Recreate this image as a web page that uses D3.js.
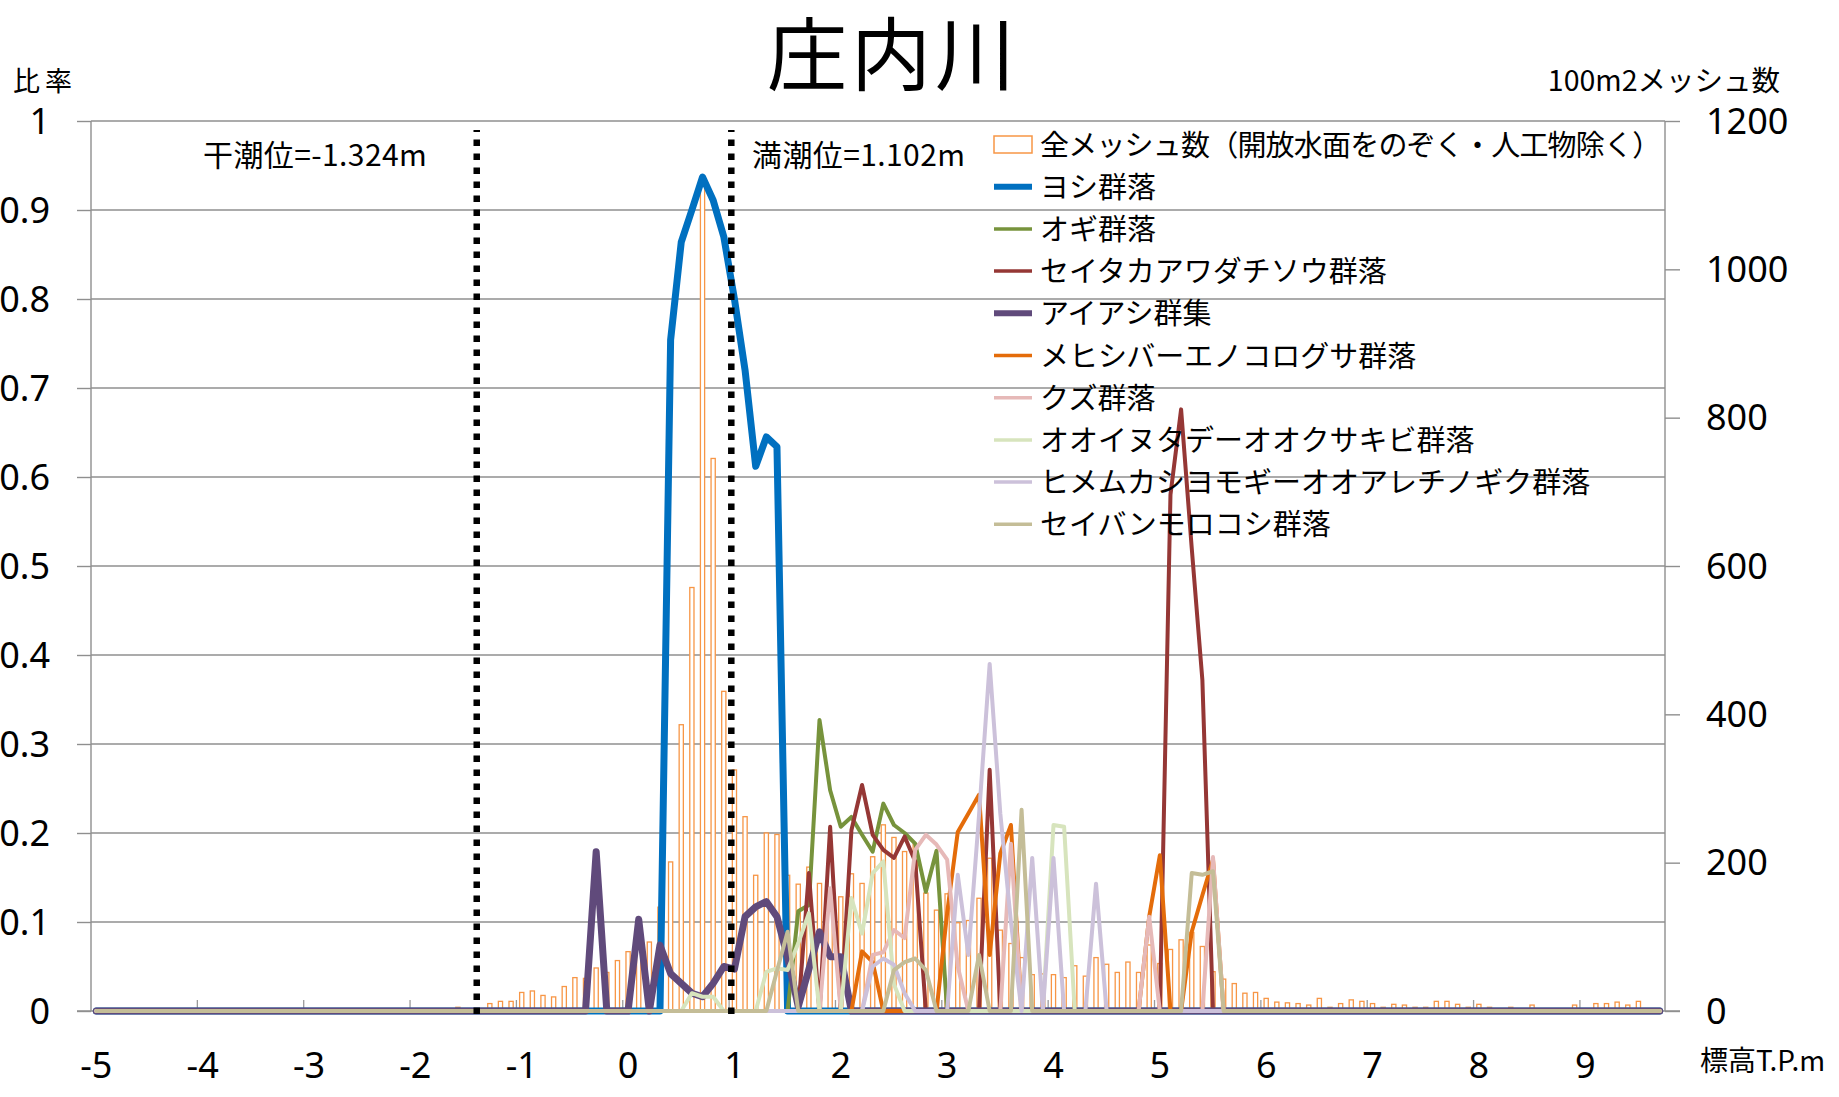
<!DOCTYPE html>
<html lang="ja">
<head>
<meta charset="utf-8">
<title>庄内川</title>
<script src="https://cdn.jsdelivr.net/npm/d3@7"></script>
<style>
  html, body { margin: 0; padding: 0; background: #fff; overflow: hidden; }
  svg { display: block; }
  .jp { font-family: "Noto Sans CJK JP", "Noto Sans", sans-serif; fill: #000; }
  .num { font-family: "Noto Sans", "DejaVu Sans", sans-serif; font-size: 36px; fill: #000; }
</style>
</head>
<body>
<svg id="chart" width="1839" height="1097"></svg>
<script>
// Elevation bins (T.P. m), 0.1 m wide, from -5.0 to 9.7
const elevations = d3.range(-50, 98).map(i => (i / 10).toFixed(1));

// Labelled bins on the elevation axis
const xTickLabels = ["-5", "-4", "-3", "-2", "-1", "0", "1", "2", "3", "4", "5", "6", "7", "8", "9"];
const leftTickLabels = ["0", "0.1", "0.2", "0.3", "0.4", "0.5", "0.6", "0.7", "0.8", "0.9", "1"];
const rightTickValues = [0, 200, 400, 600, 800, 1000, 1200];

// Tide levels (m)
const tideLevels = [-1.324, 1.102];
const tideLabels = ["干潮位=-1.324m", "満潮位=1.102m"];

// Number of 100 m2 meshes per bin (open water and artificial surfaces excluded)
const meshCount = [
  0,0,0,0,0,0,0,0,0,0,
  0,0,0,0,0,0,0,0,0,0,
  0,0,0,0,0,0,0,0,0,0,
  0,2,0,2,5,0,3,10,13,13,
  25,27,21,19,33,45,44,58,52,68,
  80,85,93,140,201,386,571,1112,745,431,
  325,262,183,240,238,183,171,194,172,136,
  154,185,172,208,251,234,215,225,159,136,
  158,119,122,152,206,109,91,72,49,50,
  49,45,61,47,72,63,52,66,52,89,
  64,83,96,106,87,53,43,37,24,25,
  17,12,11,10,8,17,5,10,15,13,
  10,5,9,8,5,5,13,13,9,5,
  9,5,0,5,3,8,0,3,0,8,
  3,10,10,12,8,13,0,0
];

// Share of each community per bin
const yoshi = [
  0,0,0,0,0,0,0,0,0,0,
  0,0,0,0,0,0,0,0,0,0,
  0,0,0,0,0,0,0,0,0,0,
  0,0,0,0,0,0,0,0,0,0,
  0,0,0,0,0,0,0,0,0,0,
  0,0,0,0,0.754,0.864,0.900,0.937,0.911,0.870,
  0.800,0.720,0.612,0.645,0.634,0,0,0,0,0,
  0,0,0,0,0,0,0,0,0,0,
  0,0,0,0,0,0,0,0,0,0,
  0,0,0,0,0,0,0,0,0,0,
  0,0,0,0,0,0,0,0,0,0,
  0,0,0,0,0,0,0,0,0,0,
  0,0,0,0,0,0,0,0,0,0,
  0,0,0,0,0,0,0,0,0,0,
  0,0,0,0,0,0,0,0
];

const ogi = [
  0,0,0,0,0,0,0,0,0,0,
  0,0,0,0,0,0,0,0,0,0,
  0,0,0,0,0,0,0,0,0,0,
  0,0,0,0,0,0,0,0,0,0,
  0,0,0,0,0,0,0,0,0,0,
  0,0,0,0,0,0,0,0,0,0,
  0,0,0,0,0,0,0.112,0.119,0.327,0.248,
  0.207,0.218,0.198,0.179,0.233,0.209,0.200,0.188,0.134,0.180,
  0,0,0,0,0,0,0,0,0,0,
  0,0,0,0,0,0,0,0,0,0,
  0,0,0,0,0,0,0,0,0,0,
  0,0,0,0,0,0,0,0,0,0,
  0,0,0,0,0,0,0,0,0,0,
  0,0,0,0,0,0,0,0,0,0,
  0,0,0,0,0,0,0,0
];

const seitaka = [
  0,0,0,0,0,0,0,0,0,0,
  0,0,0,0,0,0,0,0,0,0,
  0,0,0,0,0,0,0,0,0,0,
  0,0,0,0,0,0,0,0,0,0,
  0,0,0,0,0,0,0,0,0,0,
  0,0,0,0,0,0,0,0,0,0,
  0,0,0,0,0,0,0,0.155,0,0.207,
  0,0.203,0.254,0.198,0.181,0.172,0.196,0.168,0,0,
  0,0,0,0,0.271,0,0,0,0,0,
  0,0,0,0,0,0,0,0,0,0,
  0,0.580,0.676,0.520,0.372,0,0,0,0,0,
  0,0,0,0,0,0,0,0,0,0,
  0,0,0,0,0,0,0,0,0,0,
  0,0,0,0,0,0,0,0,0,0,
  0,0,0,0,0,0,0,0
];

const aiashi = [
  0,0,0,0,0,0,0,0,0,0,
  0,0,0,0,0,0,0,0,0,0,
  0,0,0,0,0,0,0,0,0,0,
  0,0,0,0,0,0,0,0,0,0,
  0,0,0,0,0,0,0,0.179,0,0,
  0,0.103,0,0.074,0.042,0.031,0.020,0.016,0.031,0.050,
  0.047,0.106,0.117,0.123,0.106,0.060,0.005,0.047,0.089,0.061,
  0.061,0,0,0,0,0,0,0,0,0,
  0,0,0,0,0,0,0,0,0,0,
  0,0,0,0,0,0,0,0,0,0,
  0,0,0,0,0,0,0,0,0,0,
  0,0,0,0,0,0,0,0,0,0,
  0,0,0,0,0,0,0,0,0,0,
  0,0,0,0,0,0,0,0,0,0,
  0,0,0,0,0,0,0,0
];

const mehishiba = [
  0,0,0,0,0,0,0,0,0,0,
  0,0,0,0,0,0,0,0,0,0,
  0,0,0,0,0,0,0,0,0,0,
  0,0,0,0,0,0,0,0,0,0,
  0,0,0,0,0,0,0,0,0,0,
  0,0,0,0,0,0,0,0,0,0,
  0,0,0,0,0,0,0,0,0,0,
  0,0,0.067,0.055,0,0,0,0,0,0,
  0.110,0.201,0.222,0.243,0.063,0.177,0.209,0,0,0,
  0,0,0,0,0,0,0,0,0,0.106,
  0.175,0,0,0.089,0.130,0.170,0,0,0,0,
  0,0,0,0,0,0,0,0,0,0,
  0,0,0,0,0,0,0,0,0,0,
  0,0,0,0,0,0,0,0,0,0,
  0,0,0,0,0,0,0,0
];

const kuzu = [
  0,0,0,0,0,0,0,0,0,0,
  0,0,0,0,0,0,0,0,0,0,
  0,0,0,0,0,0,0,0,0,0,
  0,0,0,0,0,0,0,0,0,0,
  0,0,0,0,0,0,0,0,0,0,
  0,0,0,0,0,0,0,0,0,0,
  0,0,0,0,0,0,0,0,0,0.138,
  0,0,0,0.063,0.066,0.091,0.082,0.181,0.198,0.187,
  0.170,0.050,0,0,0,0,0.188,0,0,0,
  0,0,0,0,0,0,0,0,0,0.106,
  0,0,0,0,0,0.173,0,0,0,0,
  0,0,0,0,0,0,0,0,0,0,
  0,0,0,0,0,0,0,0,0,0,
  0,0,0,0,0,0,0,0,0,0,
  0,0,0,0,0,0,0,0
];

const ooinutade = [
  0,0,0,0,0,0,0,0,0,0,
  0,0,0,0,0,0,0,0,0,0,
  0,0,0,0,0,0,0,0,0,0,
  0,0,0,0,0,0,0,0,0,0,
  0,0,0,0,0,0,0,0,0,0,
  0,0,0,0,0,0,0.020,0.016,0.016,0,
  0,0,0,0.044,0.048,0.046,0.076,0.110,0,0,
  0,0.127,0.087,0.155,0.168,0.030,0,0,0,0,
  0,0,0,0,0,0,0,0,0,0,
  0.209,0.207,0,0,0,0,0,0,0,0,
  0,0,0,0,0,0,0,0,0,0,
  0,0,0,0,0,0,0,0,0,0,
  0,0,0,0,0,0,0,0,0,0,
  0,0,0,0,0,0,0,0,0,0,
  0,0,0,0,0,0,0,0
];

const himemukashi = [
  0,0,0,0,0,0,0,0,0,0,
  0,0,0,0,0,0,0,0,0,0,
  0,0,0,0,0,0,0,0,0,0,
  0,0,0,0,0,0,0,0,0,0,
  0,0,0,0,0,0,0,0,0,0,
  0,0,0,0,0,0,0,0,0,0,
  0,0,0,0,0,0,0,0,0,0,
  0,0,0,0.050,0.059,0.052,0.020,0,0,0,
  0,0.153,0.063,0.220,0.390,0.222,0.100,0,0.172,0,
  0.172,0,0,0,0.143,0,0,0,0,0,
  0,0,0,0,0,0,0,0,0,0,
  0,0,0,0,0,0,0,0,0,0,
  0,0,0,0,0,0,0,0,0,0,
  0,0,0,0,0,0,0,0,0,0,
  0,0,0,0,0,0,0,0
];

const seibanmorokoshi = [
  0,0,0,0,0,0,0,0,0,0,
  0,0,0,0,0,0,0,0,0,0,
  0,0,0,0,0,0,0,0,0,0,
  0,0,0,0,0,0,0,0,0,0,
  0,0,0,0,0,0,0,0,0,0,
  0,0,0,0,0,0,0,0,0,0,
  0,0,0,0,0.045,0.089,0,0,0,0,
  0,0,0,0,0,0.046,0.055,0.059,0.046,0,
  0,0,0,0.063,0,0,0,0.226,0,0,
  0,0,0,0,0,0,0,0,0,0,
  0,0,0,0.155,0.153,0.157,0,0,0,0,
  0,0,0,0,0,0,0,0,0,0,
  0,0,0,0,0,0,0,0,0,0,
  0,0,0,0,0,0,0,0,0,0,
  0,0,0,0,0,0,0,0
];

const barSeriesName = "全メッシュ数（開放水面をのぞく・人工物除く）";
const lineSeries = [
  { name: "ヨシ群落", values: yoshi },
  { name: "オギ群落", values: ogi },
  { name: "セイタカアワダチソウ群落", values: seitaka },
  { name: "アイアシ群集", values: aiashi },
  { name: "メヒシバーエノコログサ群落", values: mehishiba },
  { name: "クズ群落", values: kuzu },
  { name: "オオイヌタデーオオクサキビ群落", values: ooinutade },
  { name: "ヒメムカシヨモギーオオアレチノギク群落", values: himemukashi },
  { name: "セイバンモロコシ群落", values: seibanmorokoshi }
];

// ---- styling ----
const lineStyle = {
  "ヨシ群落": { color: "#0070C0", width: 7, legendWidth: 6 },
  "オギ群落": { color: "#77933C", width: 4, legendWidth: 3.5 },
  "セイタカアワダチソウ群落": { color: "#953735", width: 4, legendWidth: 3.5 },
  "アイアシ群集": { color: "#604A7B", width: 7, legendWidth: 6 },
  "メヒシバーエノコログサ群落": { color: "#E46C0A", width: 4, legendWidth: 3.5 },
  "クズ群落": { color: "#E6B9B8", width: 4, legendWidth: 3.5 },
  "オオイヌタデーオオクサキビ群落": { color: "#D7E4BD", width: 4, legendWidth: 3.5 },
  "ヒメムカシヨモギーオオアレチノギク群落": { color: "#CCC1DA", width: 4, legendWidth: 3.5 },
  "セイバンモロコシ群落": { color: "#C4BD97", width: 4, legendWidth: 3.5 }
};
const barStroke = "#F79646";
const gridColor = "#8f8f8f";

const svg = d3.select("#chart");
const plot = { left: 91, right: 1665, top: 121, bottom: 1011 };

// category axis for the bins, value axis for the tide marks
const x = d3.scaleBand().domain(elevations).range([plot.left, plot.right]).padding(0);
const xc = d => x(d) + x.bandwidth() / 2;
const xTide = d3.scaleLinear().domain([-5, 10]).range([plot.left, plot.right]);
const yL = d3.scaleLinear().domain([0, 1]).range([plot.bottom, plot.top]);
const yR = d3.scaleLinear().domain([0, 1200]).range([plot.bottom, plot.top]);

// ---- gridlines ----
const leftTickValues = leftTickLabels.map(Number);
svg.append("g").selectAll("line")
  .data(leftTickValues.filter(v => v > 0))
  .join("line")
  .attr("x1", plot.left).attr("x2", plot.right)
  .attr("y1", d => yL(d)).attr("y2", d => yL(d))
  .attr("stroke", gridColor).attr("stroke-width", 1.4);

// ---- axes ----
const leftAxis = svg.append("g")
  .attr("transform", `translate(${plot.left},0)`)
  .call(d3.axisLeft(yL).tickValues(leftTickValues).tickSize(14).tickPadding(27)
    .tickFormat((d, i) => leftTickLabels[i]));
const rightAxis = svg.append("g")
  .attr("transform", `translate(${plot.right},0)`)
  .call(d3.axisRight(yR).tickValues(rightTickValues).tickSize(15).tickPadding(26)
    .tickFormat(d3.format("d")));
const bottomAxis = svg.append("g")
  .attr("transform", `translate(0,${plot.bottom})`)
  .call(d3.axisBottom(x)
    .tickValues(xTickLabels.map(t => (+t).toFixed(1)))
    .tickSize(0).tickPadding(41)
    .tickFormat((d, i) => xTickLabels[i]));

[leftAxis, rightAxis, bottomAxis].forEach(g => {
  g.select(".domain").remove();
  g.selectAll(".tick line").attr("stroke", gridColor).attr("stroke-width", 1.4);
  g.selectAll(".tick text").attr("class", "num").attr("font-size", null).attr("font-family", null);
});
leftAxis.selectAll(".tick text").attr("dy", "0.34em");
rightAxis.selectAll(".tick text").attr("dy", "0.34em");

// axis frame lines
svg.append("line").attr("x1", plot.left).attr("x2", plot.left)
  .attr("y1", plot.top).attr("y2", plot.bottom).attr("stroke", gridColor).attr("stroke-width", 1.4);
svg.append("line").attr("x1", plot.right).attr("x2", plot.right)
  .attr("y1", plot.top).attr("y2", plot.bottom).attr("stroke", gridColor).attr("stroke-width", 1.4);
svg.append("line").attr("x1", plot.left - 14).attr("x2", plot.right + 15)
  .attr("y1", plot.bottom).attr("y2", plot.bottom).attr("stroke", gridColor).attr("stroke-width", 1.6);

// inner tick marks on the elevation axis, one every 1 m
svg.append("g").selectAll("line")
  .data(xTickLabels.slice(1).map(t => (+t).toFixed(1)))
  .join("line")
  .attr("x1", d => x(d)).attr("x2", d => x(d))
  .attr("y1", plot.bottom).attr("y2", plot.bottom - 11)
  .attr("stroke", "#9a9a9a").attr("stroke-width", 1.3);

// ---- mesh count bars (right axis) ----
const barW = 4.2;
svg.append("g").selectAll("rect")
  .data(elevations.map((e, i) => ({ e, c: meshCount[i] })).filter(d => d.c > 0))
  .join("rect")
  .attr("x", d => xc(d.e) - barW / 2)
  .attr("width", barW)
  .attr("y", d => yR(d.c))
  .attr("height", d => yR(0) - yR(d.c))
  .attr("fill", "#fff")
  .attr("stroke", barStroke)
  .attr("stroke-width", 1.3);

// ---- community lines (left axis) ----
const line = d3.line()
  .x(d => xc(d.e))
  .y(d => yL(d.v));
svg.append("g").selectAll("path")
  .data(lineSeries)
  .join("path")
  .attr("d", s => line(elevations.map((e, i) => ({ e, v: s.values[i] }))))
  .attr("fill", "none")
  .attr("stroke", s => lineStyle[s.name].color)
  .attr("stroke-width", s => lineStyle[s.name].width)
  .attr("stroke-linejoin", "round")
  .attr("stroke-linecap", "round");

// ---- tide levels ----
svg.append("g").selectAll("line")
  .data(tideLevels)
  .join("line")
  .attr("x1", d => xTide(d)).attr("x2", d => xTide(d))
  .attr("y1", yL(0) + 3).attr("y2", yL(0.99))
  .attr("stroke", "#000").attr("stroke-width", 6.5)
  .attr("stroke-dasharray", "6.5,7.5");

svg.append("g").selectAll("text")
  .data(tideLabels)
  .join("text")
  .attr("class", "jp")
  .attr("x", (d, i) => [203, 752][i])
  .attr("y", 166)
  .attr("font-size", 30)
  .attr("letter-spacing", 0.4)
  .text(d => d);

// ---- titles ----
svg.append("text").attr("class", "jp")
  .attr("x", 893).attr("y", 84)
  .attr("text-anchor", "middle")
  .attr("font-size", 80)
  .attr("letter-spacing", 4)
  .text("庄内川");

svg.append("text").attr("class", "jp")
  .attr("x", 13).attr("y", 91)
  .attr("font-size", 27).attr("letter-spacing", 5)
  .text("比率");

svg.append("text").attr("class", "jp")
  .attr("x", 1780).attr("y", 91)
  .attr("text-anchor", "end")
  .attr("font-size", 28.5)
  .text("100m2メッシュ数");

svg.append("text").attr("class", "jp")
  .attr("x", 1700).attr("y", 1071)
  .attr("font-size", 28)
  .text("標高T.P.m");

// ---- legend ----
const legend = svg.append("g");
const rowY = i => 144.5 + i * 42.2;
const legendItems = [{ name: barSeriesName, bar: true }].concat(lineSeries.map(s => ({ name: s.name, bar: false })));
legendItems.forEach((item, i) => {
  const yy = rowY(i);
  if (item.bar) {
    legend.append("rect")
      .attr("x", 994).attr("y", yy - 8.5).attr("width", 38).attr("height", 17)
      .attr("fill", "#fff").attr("stroke", barStroke).attr("stroke-width", 1.5);
  } else {
    const st = lineStyle[item.name];
    legend.append("line")
      .attr("x1", 994).attr("x2", 1032).attr("y1", yy).attr("y2", yy)
      .attr("stroke", st.color).attr("stroke-width", st.legendWidth);
  }
  legend.append("text").attr("class", "jp")
    .attr("x", 1040).attr("y", yy + 11)
    .attr("font-size", 29)
    .attr("letter-spacing", item.bar ? -0.8 : 0)
    .text(item.name);
});
</script>
</body>
</html>
